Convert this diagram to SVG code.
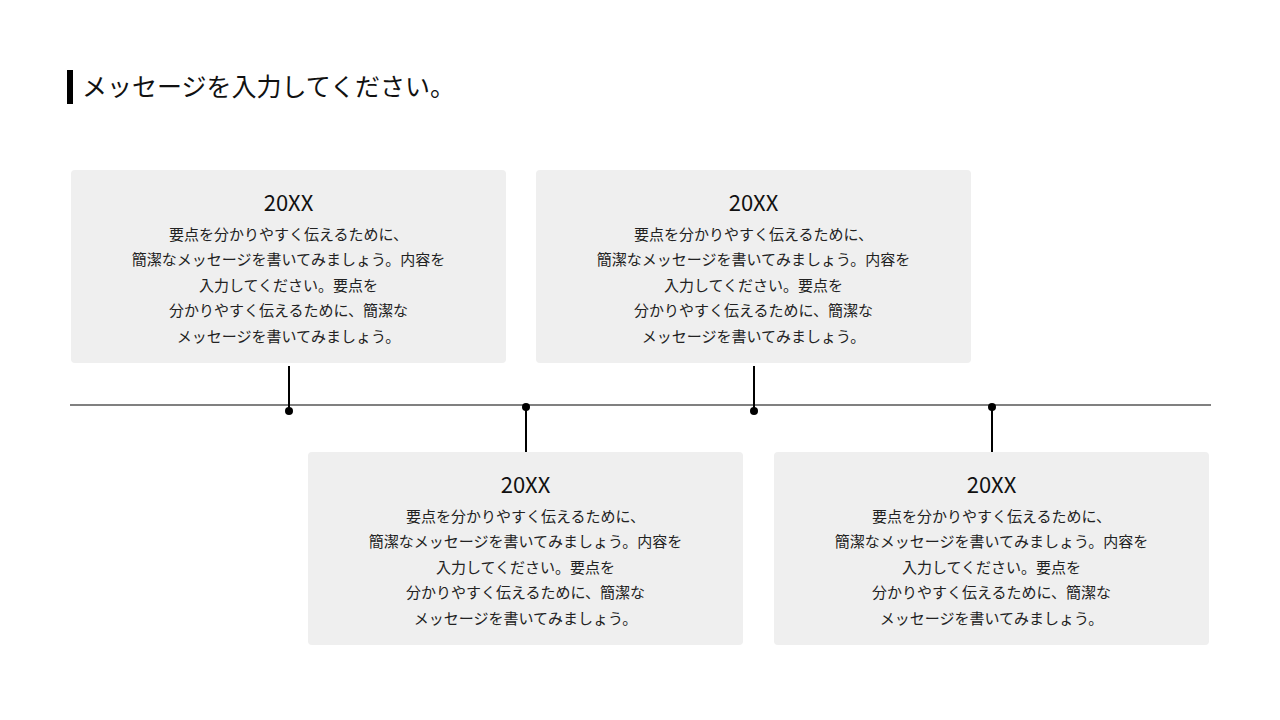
<svg xmlns="http://www.w3.org/2000/svg" width="1280" height="720" viewBox="0 0 1280 720">
<style>
.box{fill:#efefef}
.yr{font-family:"Noto Sans CJK JP","Noto Sans",sans-serif;font-size:22px;fill:#111;text-anchor:middle}
.bd{font-family:"Noto Sans CJK JP",sans-serif;font-size:15px;fill:#222;text-anchor:middle}
.ln{stroke:#000;stroke-width:2}
</style>
<rect width="1280" height="720" fill="#fff"/>
<g id="title">
<rect x="67" y="70" width="6" height="34" fill="#000"/>
<text x="82" y="96" font-family="Noto Sans CJK JP,sans-serif" font-size="25" fill="#111">メッセージを入力してください。</text>
</g>
<g id="connectors">
<line x1="70" y1="405" x2="1211" y2="405" stroke="#808080" stroke-width="2"/>
<line class="ln" x1="289" y1="366" x2="289" y2="411"/><circle cx="289" cy="411" r="4"/>
<line class="ln" x1="526" y1="407" x2="526" y2="452"/><circle cx="526" cy="407" r="4"/>
<line class="ln" x1="754" y1="366" x2="754" y2="411"/><circle cx="754" cy="411" r="4"/>
<line class="ln" x1="992" y1="407" x2="992" y2="452"/><circle cx="992" cy="407" r="4"/>
</g>
<defs>
<g id="content">
<text class="yr" x="0" y="41">20XX</text>
<text class="bd" x="0" y="70">要点を分かりやすく伝えるために、</text>
<text class="bd" x="0" y="95">簡潔なメッセージを書いてみましょう。内容を</text>
<text class="bd" x="0" y="121">入力してください。要点を</text>
<text class="bd" x="0" y="146">分かりやすく伝えるために、簡潔な</text>
<text class="bd" x="0" y="172">メッセージを書いてみましょう。</text>
</g>
</defs>
<g id="node1"><rect class="box" x="71" y="170" width="435" height="193" rx="4"/><use href="#content" x="288.5" y="170"/></g>
<g id="node2"><rect class="box" x="536" y="170" width="435" height="193" rx="4"/><use href="#content" x="753.5" y="170"/></g>
<g id="node3"><rect class="box" x="308" y="452" width="435" height="193" rx="4"/><use href="#content" x="525.5" y="452"/></g>
<g id="node4"><rect class="box" x="774" y="452" width="435" height="193" rx="4"/><use href="#content" x="991.5" y="452"/></g>
</svg>
